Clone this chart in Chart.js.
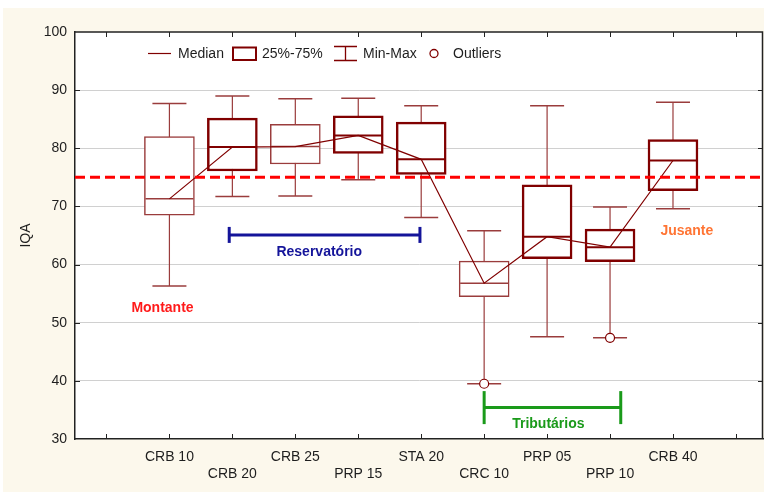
<!DOCTYPE html>
<html>
<head>
<meta charset="utf-8">
<script src="https://cdn.jsdelivr.net/npm/chart.js@4.4.1/dist/chart.umd.min.js"></script>
<style>
  html, body { margin: 0; padding: 0; background: #fff; }
  #wrap { width: 764px; height: 492px; }
</style>
</head>
<body>
<div id="wrap"><canvas id="iqaChart" width="764" height="492"></canvas></div>
<script>
(function () {
    "use strict";

    // ---- Data ----
    const sites   = ["CRB 10", "CRB 20", "CRB 25", "PRP 15", "STA 20", "CRC 10", "PRP 05", "PRP 10", "CRB 40"];
    const mins    = [56.3, 71.7, 71.8, 74.6, 68.1, 39.5, 47.6, 47.4, 69.6];
    const q1s     = [68.5, 76.1, 77.3, 79.1, 75.5, 54.5, 61.0, 60.5, 72.7];
    const medians = [71.3, 80.2, 80.3, 82.2, 78.1, 56.8, 64.8, 63.0, 77.9];
    const q3s     = [82.0, 85.2, 84.1, 85.6, 84.5, 60.6, 73.7, 66.1, 81.5];
    const maxs    = [87.7, 89.0, 88.5, 88.6, 87.3, 65.8, 87.3, 69.9, 87.9];
    const outlierSites  = ["CRC 10", "PRP 10"];
    const outlierValues = [39.5, 47.4];
    const refValue = 75;
    const yMin = 30, yMax = 100, yStep = 10;
    const legendLabels = ["Median", "25%-75%", "Min-Max", "Outliers"];
    const regionNames  = ["Montante", "Reservatório", "Tributários", "Jusante"];

    // ---- Styling / layout ----
    const COLORS = {
        dark:   "#800000",
        light:  "#9a3c3c",
        ref:    "#ff0000",
        grid:   "#d0d0d0",
        text:   "#1e1e1e",
        cream:  "#fcf8ec",
        region: ["#ff1a1a", "#14149a", "#1a9a1a", "#ff7433"],
    };
    const FONT = "'Liberation Sans', Arial, sans-serif";
    const thickBox = [false, true, false, true, true, false, true, true, true];
    const X_MIN = -1.5, X_MAX = 9.43;

    // bracket groups (in site-index units) and label anchors
    const brackets = [
        { from: 0.95, to: 3.98, level: 65.1, color: COLORS.region[1], half: 8 },
        { from: 5.0,  to: 7.17, level: 35.4, color: COLORS.region[2], half: 16.5 },
    ];
    const regionAnchors = [
        { x: -0.11, y: 52.5 }, { x: 2.38, y: 62.2 }, { x: 6.02, y: 32.6 }, { x: 8.22, y: 65.8 },
    ];

    const idx = (name) => sites.indexOf(name);

    // whiskers: one line dataset, broken by null gaps
    const whiskerPts = [];
    sites.forEach((s, i) => {
        whiskerPts.push({ x: i, y: mins[i] }, { x: i, y: maxs[i] }, { x: i + 0.5, y: null });
    });
    const capPts = sites.map((s, i) => ({ x: i, y: mins[i] }))
        .concat(sites.map((s, i) => ({ x: i, y: maxs[i] })));

    const datasets = [
        {
            type: "line", label: "whiskers", data: whiskerPts, order: 6,
            borderColor: COLORS.light, borderWidth: 1.2, pointRadius: 0, spanGaps: false,
        },
        {
            type: "bar", label: "25%-75%", order: 5, grouped: false,
            data: sites.map((s, i) => ({ x: i, y: [q1s[i], q3s[i]] })),
            backgroundColor: "#ffffff",
            borderColor: thickBox.map(t => t ? COLORS.dark : COLORS.light),
            borderWidth: thickBox.map(t => t ? 2.5 : 1.5),
            borderSkipped: false,
            barThickness: 50,
        },
        {
            type: "line", label: "median marks", order: 4, showLine: false,
            data: sites.map((s, i) => ({ x: i, y: medians[i] })),
            pointStyle: "line", pointRadius: 24, pointHoverRadius: 24,
            pointBorderColor: thickBox.map(t => t ? COLORS.dark : COLORS.light),
            pointBorderWidth: thickBox.map(t => t ? 2 : 1.5),
        },
        {
            type: "line", label: "Median", order: 3,
            data: sites.map((s, i) => ({ x: i, y: medians[i] })),
            borderColor: COLORS.dark, borderWidth: 1.2, pointRadius: 0, tension: 0,
        },
        {
            type: "line", label: "caps", order: 2, showLine: false, data: capPts,
            pointStyle: "line", pointRadius: 17, pointHoverRadius: 17,
            pointBorderColor: COLORS.light, pointBorderWidth: 1.5,
        },
        {
            type: "line", label: "Outliers", order: 1, showLine: false,
            data: outlierSites.map((s, k) => ({ x: idx(s), y: outlierValues[k] })),
            pointStyle: "circle", pointRadius: 4.5, pointHoverRadius: 4.5,
            pointBackgroundColor: "#ffffff", pointBorderColor: COLORS.dark, pointBorderWidth: 1.2,
        },
        {
            type: "line", label: "ref", order: 0,
            data: [{ x: X_MIN, y: refValue }, { x: X_MAX, y: refValue }],
            borderColor: COLORS.ref, borderWidth: 3, borderDash: [10, 5], pointRadius: 0,
        },
    ];
    brackets.forEach((b) => {
        datasets.push({
            type: "line", label: "bracket", order: 1,
            data: [{ x: b.from, y: b.level }, { x: b.to, y: b.level }],
            borderColor: b.color, borderWidth: 3,
            pointStyle: "line", pointRotation: 90, pointRadius: b.half, pointHoverRadius: b.half,
            pointBorderColor: b.color, pointBorderWidth: 3,
        });
    });

    // ---- Plugins: background, frame with inward ticks, legend, region labels ----
    const backdrop = {
        id: "backdrop",
        beforeDraw(chart) {
            const { ctx, chartArea: a } = chart;
            ctx.save();
            ctx.fillStyle = "#ffffff";
            ctx.fillRect(0, 0, chart.width, chart.height);
            ctx.fillStyle = COLORS.cream;
            ctx.fillRect(3, 8, chart.width - 3, chart.height - 8);
            ctx.fillStyle = "#ffffff";
            ctx.fillRect(a.left, a.top, a.right - a.left, a.bottom - a.top);
            ctx.restore();
        },
        afterDraw(chart) {
            const { ctx, chartArea: a, scales } = chart;
            ctx.save();
            ctx.strokeStyle = "#222";
            ctx.lineWidth = 1.5;
            ctx.beginPath();
            ctx.moveTo(a.left, a.top); ctx.lineTo(a.right - 0.5, a.top); ctx.lineTo(a.right - 0.5, a.bottom);
            ctx.stroke();
            ctx.lineWidth = 1;
            ctx.beginPath();
            for (let v = Math.ceil(X_MIN); v <= Math.floor(X_MAX); v++) {
                const px = Math.round(scales.x.getPixelForValue(v)) + 0.5;
                ctx.moveTo(px, a.top); ctx.lineTo(px, a.top + 5);
                ctx.moveTo(px, a.bottom); ctx.lineTo(px, a.bottom - 5);
            }
            for (let v = yMin + yStep; v < yMax; v += yStep) {
                const py = Math.round(scales.y.getPixelForValue(v)) + 0.5;
                ctx.moveTo(a.left, py); ctx.lineTo(a.left + 5, py);
                ctx.moveTo(a.right, py); ctx.lineTo(a.right - 5, py);
            }
            ctx.stroke();

            // legend
            const ly = 53.5;
            ctx.font = "14px " + FONT;
            ctx.fillStyle = COLORS.text;
            ctx.textBaseline = "middle";
            ctx.strokeStyle = COLORS.dark;
            ctx.lineWidth = 1.2;
            ctx.beginPath(); ctx.moveTo(148, ly); ctx.lineTo(171, ly); ctx.stroke();
            ctx.fillText(legendLabels[0], 178, ly + 1);
            ctx.lineWidth = 2;
            ctx.strokeRect(233, 47.5, 23, 12.5);
            ctx.fillText(legendLabels[1], 262, ly + 1);
            ctx.lineWidth = 1.3;
            ctx.beginPath();
            ctx.moveTo(334, 46.5); ctx.lineTo(357, 46.5);
            ctx.moveTo(334, 60.5); ctx.lineTo(357, 60.5);
            ctx.moveTo(345.5, 46.5); ctx.lineTo(345.5, 60.5);
            ctx.stroke();
            ctx.fillText(legendLabels[2], 363, ly + 1);
            ctx.fillStyle = "#ffffff";
            ctx.beginPath(); ctx.arc(434, ly, 4, 0, Math.PI * 2); ctx.fill(); ctx.stroke();
            ctx.fillStyle = COLORS.text;
            ctx.fillText(legendLabels[3], 453, ly + 1);

            // region labels
            ctx.font = "bold 14px " + FONT;
            ctx.textAlign = "center";
            regionNames.forEach((name, k) => {
                ctx.fillStyle = COLORS.region[k];
                ctx.fillText(name,
                    scales.x.getPixelForValue(regionAnchors[k].x),
                    scales.y.getPixelForValue(regionAnchors[k].y));
            });
            ctx.restore();
        },
    };

    new Chart(document.getElementById("iqaChart"), {
        type: "bar",
        data: { datasets },
        plugins: [backdrop],
        options: {
            responsive: false,
            devicePixelRatio: 1,
            animation: false,
            events: [],
            layout: { autoPadding: false, padding: { top: 32, right: 1, bottom: 0, left: 0 } },
            plugins: { legend: { display: false }, tooltip: { enabled: false } },
            scales: {
                x: {
                    type: "linear", min: X_MIN, max: X_MAX, offset: false,
                    grid: { display: false, drawTicks: false, offset: false },
                    border: { display: true, color: "#222", width: 1.5 },
                    afterFit(scale) {
                        scale.height = 53;
                        scale.paddingLeft = 0;
                        scale.paddingRight = 0;
                    },
                    ticks: {
                        stepSize: 1, includeBounds: false, autoSkip: false, maxRotation: 0,
                        padding: 10, color: COLORS.text, font: { family: FONT, size: 14 },
                        callback(v) {
                            const i = Math.round(v);
                            if (Math.abs(v - i) > 1e-6 || i < 0 || i >= sites.length) return "";
                            return i % 2 ? ["", sites[i]] : [sites[i]];
                        },
                    },
                },
                y: {
                    min: yMin, max: yMax,
                    grid: {
                        drawTicks: false,
                        color: (c) => (c.tick && (c.tick.value === yMin || c.tick.value === yMax)) ? "rgba(0,0,0,0)" : COLORS.grid,
                    },
                    border: { display: true, color: "#222", width: 1.5 },
                    afterFit(scale) { scale.width = 75; },
                    title: {
                        display: true, text: "IQA", color: COLORS.text,
                        font: { family: FONT, size: 14 }, padding: { top: 18, bottom: 0 },
                    },
                    ticks: {
                        stepSize: yStep, padding: 8, color: COLORS.text,
                        font: { family: FONT, size: 14 },
                    },
                },
            },
        },
    });
})();
</script>
</body>
</html>
